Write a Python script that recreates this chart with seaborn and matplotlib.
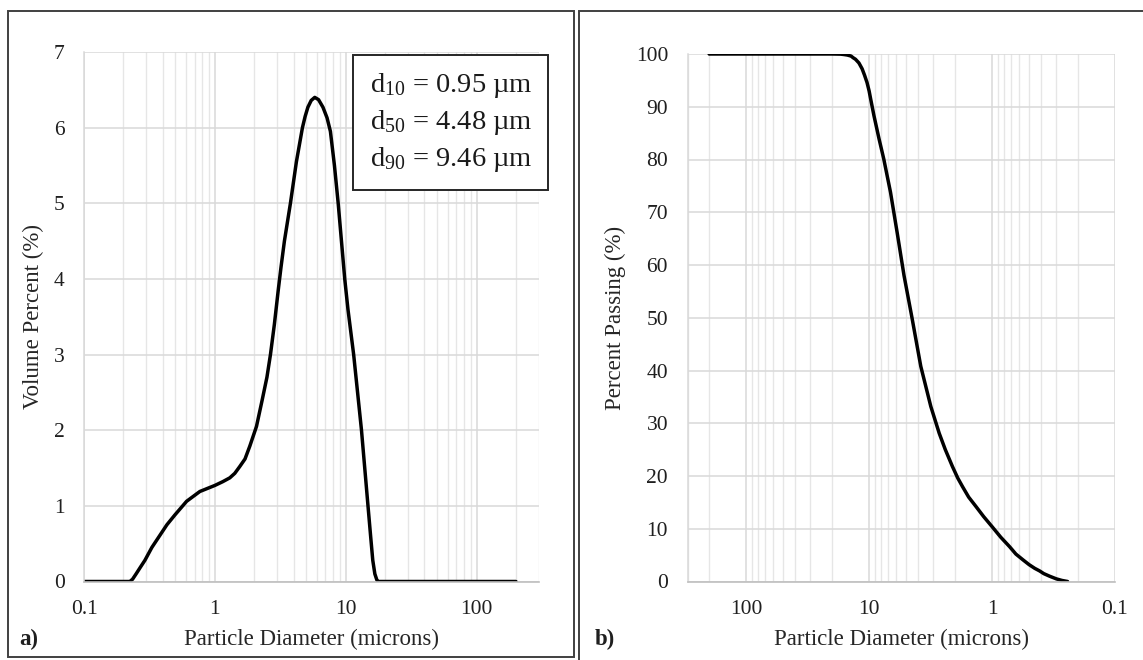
import matplotlib
matplotlib.use("Agg")
import matplotlib.pyplot as plt
import seaborn as sns
import pandas as pd
from matplotlib.patches import Rectangle
from matplotlib.ticker import FixedLocator, FixedFormatter, LogLocator, NullFormatter, MultipleLocator

# ---------------- data ----------------
diam_a = [0.1, 0.15, 0.2, 0.224, 0.235, 0.25, 0.27, 0.292, 0.33, 0.38, 0.43, 0.495,
          0.608, 0.768, 1.0, 1.15, 1.3, 1.42, 1.55, 1.7, 1.85, 2.08, 2.3, 2.5, 2.66,
          2.85, 3.05, 3.2, 3.4, 3.78, 4.2, 4.67, 4.9, 5.14, 5.45, 5.8, 6.2, 6.7, 7.2,
          7.64, 8.2, 8.76, 9.83, 10.4, 11.5, 13.2, 14.8, 15.5, 16.1, 16.7, 17.3, 17.8,
          50, 100, 200]
vol_a = [0, 0, 0, 0, 0.03, 0.1, 0.19, 0.28, 0.45, 0.61, 0.75, 0.88,
         1.06, 1.19, 1.27, 1.32, 1.37, 1.43, 1.52, 1.62, 1.79, 2.05, 2.4, 2.7, 3.0,
         3.4, 3.85, 4.15, 4.5, 5.0, 5.55, 6.0, 6.15, 6.27, 6.36, 6.4, 6.37, 6.27, 6.13,
         5.95, 5.5, 5.0, 4.0, 3.6, 3.0, 2.0, 1.0, 0.6, 0.28, 0.1, 0.02, 0,
         0, 0, 0]

diam_b = [200, 100, 50, 20, 17, 16, 15, 14, 13.5, 12.9, 12.1, 11.4, 10.9, 10.4, 10.0,
          9.72, 9.13, 8.3, 7.6, 6.7, 5.9, 5.2, 4.48, 3.8, 3.15, 2.69, 2.4, 2.1, 1.9,
          1.74, 1.55, 1.35, 1.17, 1.0, 0.85, 0.72, 0.64, 0.56, 0.5, 0.45, 0.41, 0.38,
          0.34, 0.3, 0.27, 0.243]
pass_b = [100, 100, 100, 100, 99.97, 99.9, 99.8, 99.6, 99.3, 99.0, 98.3, 97.2, 96.0, 94.6, 93.0,
          91.5, 88.3, 83.9, 80.1, 73.8, 66.0, 58.0, 50.0, 40.8, 33.2, 28.1, 25.0, 21.8, 19.6,
          18.0, 16.0, 14.2, 12.3, 10.4, 8.4, 6.6, 5.2, 4.1, 3.2, 2.5, 2.0, 1.5,
          1.0, 0.5, 0.2, 0]

x_ticks = [0.1, 1, 10, 100]
x_tick_labels = ["0.1", "1", "10", "100"]
stats_lines = [r"d$_{10}$ = 0.95 µm", r"d$_{50}$ = 4.48 µm", r"d$_{90}$ = 9.46 µm"]
x_label = "Particle Diameter (microns)"
y_label_a = "Volume Percent (%)"
y_label_b = "Percent Passing (%)"

# ---------------- style ----------------
sns.set_theme(style="white")
plt.rcParams["font.family"] = ["Liberation Serif", "DejaVu Serif"]
plt.rcParams["mathtext.fontset"] = "custom"
plt.rcParams["mathtext.rm"] = "Liberation Serif"
plt.rcParams["mathtext.it"] = "Liberation Serif"
plt.rcParams["text.color"] = "#1f1f1f"

W, H = 1143, 660
fig = plt.figure(figsize=(W / 100, H / 100), dpi=100)
fig.patch.set_facecolor("white")

def fx(x):
    return x / W

def fy(y):
    return 1 - y / H

TICK_FS = 15.5
LABEL_FS = 16.5
GRID_MAJ = "#d9d9d9"
GRID_MIN = "#e6e6e6"

ax1 = fig.add_axes([fx(84), fy(581.5), (539 - 84) / W, (581.5 - 52) / H])
ax2 = fig.add_axes([fx(687.5), fy(581.5), (1115 - 687.5) / W, (581.5 - 54) / H])

df_a = pd.DataFrame({"diam": diam_a, "vol": vol_a})
df_b = pd.DataFrame({"diam": diam_b, "passing": pass_b})

sns.lineplot(data=df_a, x="diam", y="vol", ax=ax1, color="black", linewidth=2.5,
             sort=False, estimator=None)
sns.lineplot(data=df_b, x="diam", y="passing", ax=ax2, color="black", linewidth=2.5,
             sort=False, estimator=None)
for ax in (ax1, ax2):
    for ln in ax.lines:
        ln.set_solid_joinstyle("round")
        ln.set_solid_capstyle("round")

for ax, ylim, ystep in ((ax1, (0, 7), 1), (ax2, (0, 100), 10)):
    ax.set_xscale("log")
    ax.set_ylim(*ylim)
    ax.xaxis.set_major_locator(FixedLocator(x_ticks))
    ax.xaxis.set_major_formatter(FixedFormatter(x_tick_labels))
    ax.xaxis.set_minor_locator(LogLocator(base=10, subs=range(2, 10), numticks=20))
    ax.xaxis.set_minor_formatter(NullFormatter())
    ax.yaxis.set_major_locator(MultipleLocator(ystep))
    ax.grid(True, which="major", axis="both", color=GRID_MAJ, linewidth=1.1)
    ax.grid(True, which="minor", axis="x", color=GRID_MIN, linewidth=1.0)
    ax.set_axisbelow(True)
    ax.tick_params(which="both", length=0, labelsize=TICK_FS, colors="#1f1f1f")
    ax.tick_params(axis="x", pad=13)
    ax.tick_params(axis="y", pad=14)
    for s in ("top", "right"):
        ax.spines[s].set_visible(False)
    ax.spines["bottom"].set_color("#bfbfbf")
    ax.spines["left"].set_color("#d9d9d9")
    ax.spines["bottom"].set_linewidth(1.2)
    ax.spines["left"].set_linewidth(1.1)
    ax.set_xlabel(x_label, fontsize=LABEL_FS)
    ax.xaxis.label.set_va("center")

ax1.set_xlim(0.1, 300)
ax2.set_xlim(300, 0.1)

ax1.set_ylabel(y_label_a, fontsize=LABEL_FS)
ax2.set_ylabel(y_label_b, fontsize=LABEL_FS)
ax1.yaxis.label.set_va("center")
ax2.yaxis.label.set_va("center")
ax1.yaxis.set_label_coords((33 - 84) / (539 - 84), 0.5)
ax2.yaxis.set_label_coords((615.6 - 687.5) / (1115 - 687.5), 0.5)
ax1.xaxis.set_label_coords(0.5, (581.5 - 639) / (581.5 - 52))
ax2.xaxis.set_label_coords(0.5, (581.5 - 639) / (581.5 - 54))

# stats box
fig.add_artist(Rectangle((fx(353), fy(190)), (548 - 353) / W, (190 - 55) / H,
                         transform=fig.transFigure, facecolor="white",
                         edgecolor="#262626", linewidth=1.4, zorder=5))
for i, line in enumerate(stats_lines):
    fig.text(fx(370), fy(86 + i * 36.5), line, fontsize=20.5, ha="left", va="center",
             color="#1a1a1a", zorder=6)

# panel labels
fig.text(fx(29), fy(639), "a)", fontsize=16.5, fontweight="bold", ha="center", va="center")
fig.text(fx(605), fy(639), "b)", fontsize=16.5, fontweight="bold", ha="center", va="center")

# panel borders
fig.add_artist(Rectangle((fx(7.5), fy(657)), (574 - 7.5) / W, (657 - 10.5) / H,
                         transform=fig.transFigure, fill=False,
                         edgecolor="#404040", linewidth=1.4))
fig.add_artist(Rectangle((fx(579), fy(680)), (1170 - 579) / W, (680 - 10.5) / H,
                         transform=fig.transFigure, fill=False,
                         edgecolor="#404040", linewidth=1.4, clip_on=False))

fig.savefig("out.png", dpi=100, facecolor="white")
